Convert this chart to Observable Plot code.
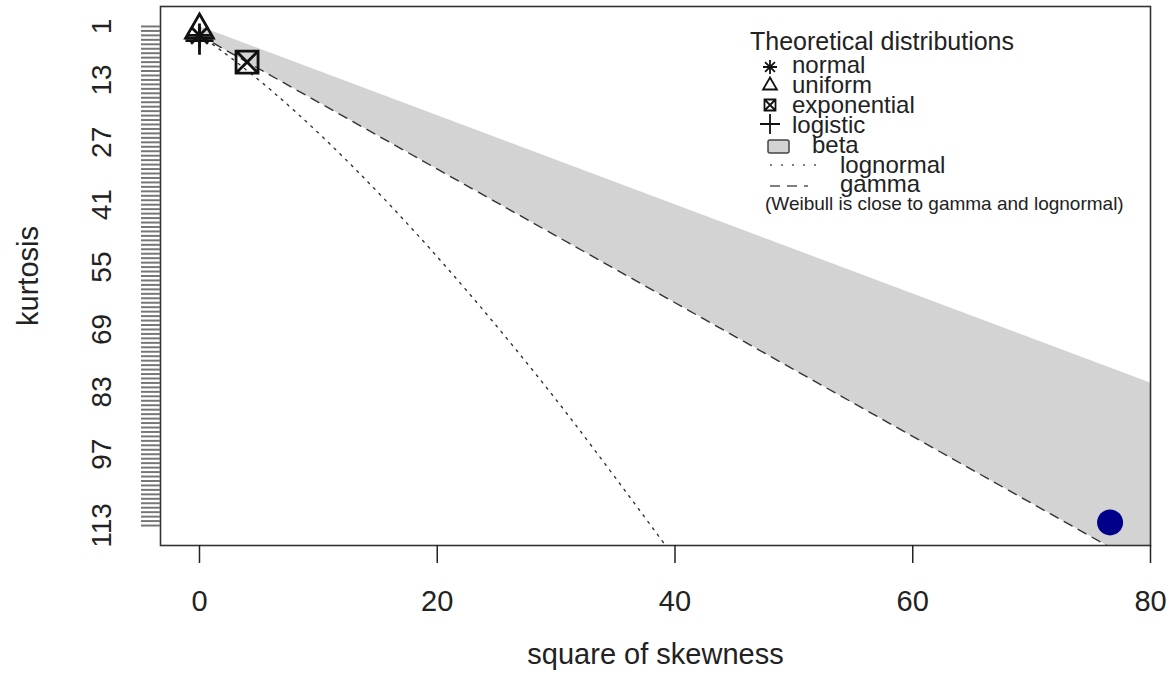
<!DOCTYPE html>
<html><head><meta charset="utf-8">
<script src="https://cdn.jsdelivr.net/npm/d3@7"></script>
<script src="https://cdn.jsdelivr.net/npm/@observablehq/plot@0.6"></script>
<style>
body{margin:0;background:#fff;font-family:"Liberation Sans",Arial,Helvetica,sans-serif;}
#wrap{position:relative;width:1171px;height:692px;}
#legend{position:absolute;left:0;top:0;pointer-events:none;}
</style></head><body><div id="wrap"></div>
<script>
// ---- data ----
const xTicks = [0, 20, 40, 60, 80];
const yTickLabels = [1, 13, 27, 41, 55, 69, 83, 97, 113];
const yTickMarks = d3.range(1, 114);

const distNames = ["normal", "uniform", "exponential", "logistic"];
const distSkew2 = [0, 0, 4, 0];
const distKurt = [3, 1.8, 9, 4.2];

const obsSkew2 = [76.6];
const obsKurt = [112.3];

const lognormSkew2 = [0, 0.96, 2.64, 6.13, 10.55, 16, 22.58, 30.38, 39.48];
const lognormKurt = [3, 4.76, 8.04, 15.56, 26.29, 41, 60.6, 86.06, 118.47];

const gammaSkew2 = [0, 82];
const gammaKurt = [3, 126];

const betaSkew2 = [0, 82];
const betaLower = [1, 83];
const betaUpper = [3, 126];

// ---- R-like plotting symbols ----
const rad = s => Math.sqrt(s / Math.PI);
const pch8 = {draw(c, s) { const r = rad(s), d = r * Math.SQRT1_2;
  c.moveTo(-r, 0); c.lineTo(r, 0); c.moveTo(0, -r); c.lineTo(0, r);
  c.moveTo(-d, -d); c.lineTo(d, d); c.moveTo(-d, d); c.lineTo(d, -d); }};
const pch2 = {draw(c, s) { const r = rad(s);
  c.moveTo(0, -r); c.lineTo(r * 0.866, r / 2); c.lineTo(-r * 0.866, r / 2); c.closePath(); }};
const pch7 = {draw(c, s) { const r = rad(s);
  c.moveTo(-r, -r); c.lineTo(r, -r); c.lineTo(r, r); c.lineTo(-r, r); c.closePath();
  c.moveTo(-r, -r); c.lineTo(r, r); c.moveTo(-r, r); c.lineTo(r, -r); }};
const pch3 = {draw(c, s) { const r = rad(s);
  c.moveTo(-r, 0); c.lineTo(r, 0); c.moveTo(0, -r); c.lineTo(0, r); }};
const distSymbols = [pch8, pch2, pch7, pch3];
const distSizes = [12, 16, 11, 14];

const dist = distNames.map((n, i) => ({name: n, s2: distSkew2[i], k: distKurt[i]}));
const obs = obsSkew2.map((s, i) => ({s2: s, k: obsKurt[i]}));
const lognorm = lognormSkew2.map((s, i) => ({s2: s, k: lognormKurt[i]}));
const gamma = gammaSkew2.map((s, i) => ({s2: s, k: gammaKurt[i]}));
const beta = betaSkew2.map((s, i) => ({s2: s, lo: betaLower[i], hi: betaUpper[i]}));

const FONT = '"Liberation Sans", Arial, Helvetica, sans-serif';
const INK = "#222";

const plot = Plot.plot({
  width: 1171, height: 692,
  marginLeft: 160, marginRight: 21, marginTop: 6, marginBottom: 147,
  style: {fontFamily: FONT, fontSize: "28px", color: INK, background: "#fff"},
  x: {domain: [-3.28, 80]},
  y: {domain: [-3.48, 117.48], reverse: true},
  marks: [
    Plot.areaY(beta, {x: "s2", y1: "lo", y2: "hi", fill: "#d3d3d3", clip: true}),
    Plot.line(lognorm, {x: "s2", y: "k", stroke: "#333", strokeWidth: 1.4, strokeDasharray: "2,6", curve: "catmull-rom", clip: true}),
    Plot.line(gamma, {x: "s2", y: "k", stroke: "#333", strokeWidth: 1.4, strokeDasharray: "9,7", clip: true}),
    ...dist.map((d, i) => Plot.dot([d], {x: "s2", y: "k", symbol: distSymbols[i], r: distSizes[i], fill: "none", stroke: "#111", strokeWidth: 2.8})),
    Plot.dot(obs, {x: "s2", y: "k", r: 13, fill: "#00008B", stroke: "none"}),
    Plot.frame({stroke: "#333", strokeWidth: 1.6}),
    Plot.axisX({ticks: xTicks, tickSize: 18, tickPadding: 27, fontSize: 29, strokeWidth: 1.5,
      label: "square of skewness", labelAnchor: "center", labelOffset: 118, labelArrow: "none"}),
    Plot.axisY({ticks: yTickMarks, tickSize: 19, tickFormat: () => "", strokeWidth: 2, stroke: "#777",
      label: "kurtosis", labelAnchor: "center", labelOffset: 143, fontSize: 29, labelArrow: "none"}),
    Plot.axisY({ticks: yTickLabels, tickSize: 0, tickPadding: 58, rotate: -90, textAnchor: "middle",
      fontSize: 28, label: null})
  ]
});
document.getElementById("wrap").appendChild(plot);

// ---- legend (R-style, inside plot region) ----
const LF = 24;
const legendItems = [
  {label: "normal", sym: pch8, r: 7, base: 73, tx: 792},
  {label: "uniform", sym: pch2, r: 8, base: 92.5, tx: 792},
  {label: "exponential", sym: pch7, r: 5.5, base: 113, tx: 792},
  {label: "logistic", sym: pch3, r: 10, base: 133, tx: 792}
];
const lg = d3.create("svg").attr("id", "legend").attr("width", 1171).attr("height", 692)
  .style("font-family", FONT).attr("fill", INK);
lg.append("text").attr("x", 750).attr("y", 50).attr("font-size", 25).text("Theoretical distributions");
const symY = [67, 85.5, 105, 124];
legendItems.forEach((it, i) => {
  lg.append("path").attr("transform", `translate(770,${symY[i]})`)
    .attr("d", d3.symbol(it.sym, Math.PI * it.r * it.r)())
    .attr("fill", "none").attr("stroke", "#111").attr("stroke-width", 1.8);
  lg.append("text").attr("x", it.tx).attr("y", it.base).attr("font-size", LF).text(it.label);
});
lg.append("rect").attr("x", 768).attr("y", 140).attr("width", 21).attr("height", 13).attr("rx", 2)
  .attr("fill", "#d3d3d3").attr("stroke", "#444").attr("stroke-width", 1.5);
lg.append("text").attr("x", 812).attr("y", 153).attr("font-size", LF).text("beta");
lg.append("line").attr("x1", 770).attr("x2", 817).attr("y1", 165).attr("y2", 165)
  .attr("stroke", "#555").attr("stroke-width", 1.6).attr("stroke-dasharray", "2,9");
lg.append("text").attr("x", 840).attr("y", 173).attr("font-size", LF).text("lognormal");
lg.append("line").attr("x1", 770).attr("x2", 808).attr("y1", 186).attr("y2", 186)
  .attr("stroke", "#555").attr("stroke-width", 1.6).attr("stroke-dasharray", "10,7");
lg.append("text").attr("x", 840).attr("y", 192).attr("font-size", LF).text("gamma");
lg.append("text").attr("x", 765).attr("y", 210).attr("font-size", 19).text("(Weibull is close to gamma and lognormal)");
document.getElementById("wrap").appendChild(lg.node());
</script>
</body></html>
